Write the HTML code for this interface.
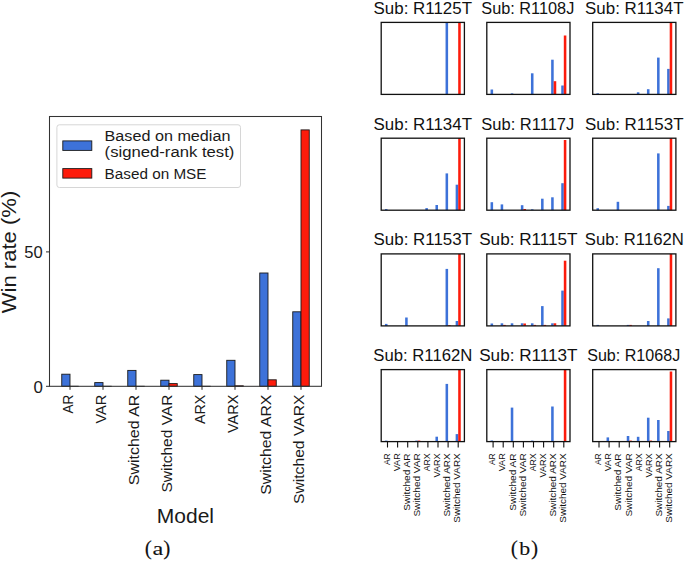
<!DOCTYPE html>
<html><head><meta charset="utf-8"><title>Win rate figure</title>
<style>
html,body{margin:0;padding:0;background:#fff;}
body{width:685px;height:561px;overflow:hidden;font-family:"Liberation Sans", sans-serif;}
svg{display:block;}
</style></head>
<body>
<svg width="685" height="561" viewBox="0 0 685 561">
<rect x="0" y="0" width="685" height="561" fill="#fff"/>
<rect x="61.75" y="374.20" width="8.25" height="12.10" fill="#3d72d9" stroke="#1a1a1a" stroke-width="0.9"/>
<line x1="69.55" y1="386.3" x2="78.70" y2="386.3" stroke="#1a1a1a" stroke-width="0.9"/>
<rect x="94.75" y="382.60" width="8.25" height="3.70" fill="#3d72d9" stroke="#1a1a1a" stroke-width="0.9"/>
<line x1="102.55" y1="386.3" x2="111.70" y2="386.3" stroke="#1a1a1a" stroke-width="0.9"/>
<rect x="127.75" y="370.40" width="8.25" height="15.90" fill="#3d72d9" stroke="#1a1a1a" stroke-width="0.9"/>
<line x1="135.55" y1="386.3" x2="144.70" y2="386.3" stroke="#1a1a1a" stroke-width="0.9"/>
<rect x="160.75" y="380.20" width="8.25" height="6.10" fill="#3d72d9" stroke="#1a1a1a" stroke-width="0.9"/>
<rect x="169.00" y="383.60" width="8.25" height="2.70" fill="#fd1b0b" stroke="#1a1a1a" stroke-width="0.9"/>
<rect x="193.75" y="374.60" width="8.25" height="11.70" fill="#3d72d9" stroke="#1a1a1a" stroke-width="0.9"/>
<line x1="201.55" y1="386.3" x2="210.70" y2="386.3" stroke="#1a1a1a" stroke-width="0.9"/>
<rect x="226.75" y="360.30" width="8.25" height="26.00" fill="#3d72d9" stroke="#1a1a1a" stroke-width="0.9"/>
<rect x="235.00" y="385.80" width="8.25" height="0.50" fill="#fd1b0b" stroke="#1a1a1a" stroke-width="0.9"/>
<rect x="259.75" y="273.00" width="8.25" height="113.30" fill="#3d72d9" stroke="#1a1a1a" stroke-width="0.9"/>
<rect x="268.00" y="379.80" width="8.25" height="6.50" fill="#fd1b0b" stroke="#1a1a1a" stroke-width="0.9"/>
<rect x="292.75" y="311.80" width="8.25" height="74.50" fill="#3d72d9" stroke="#1a1a1a" stroke-width="0.9"/>
<rect x="301.00" y="129.90" width="8.25" height="256.40" fill="#fd1b0b" stroke="#1a1a1a" stroke-width="0.9"/>
<rect x="49.5" y="116.5" width="272.0" height="269.8" fill="none" stroke="#333" stroke-width="1.05"/>
<line x1="46" y1="386.3" x2="49.5" y2="386.3" stroke="#2a2a2a" stroke-width="1"/>
<line x1="46" y1="251.9" x2="49.5" y2="251.9" stroke="#2a2a2a" stroke-width="1"/>
<text x="42.8" y="392.7" font-size="15.6" font-family='"Liberation Sans", sans-serif' fill="#1a1a1a" text-anchor="end" textLength="9.4" lengthAdjust="spacingAndGlyphs">0</text>
<text x="42.6" y="257.7" font-size="15.6" font-family='"Liberation Sans", sans-serif' fill="#1a1a1a" text-anchor="end" textLength="18.4" lengthAdjust="spacingAndGlyphs">50</text>
<line x1="70.0" y1="386.3" x2="70.0" y2="389.8" stroke="#2a2a2a" stroke-width="1"/>
<line x1="103.0" y1="386.3" x2="103.0" y2="389.8" stroke="#2a2a2a" stroke-width="1"/>
<line x1="136.0" y1="386.3" x2="136.0" y2="389.8" stroke="#2a2a2a" stroke-width="1"/>
<line x1="169.0" y1="386.3" x2="169.0" y2="389.8" stroke="#2a2a2a" stroke-width="1"/>
<line x1="202.0" y1="386.3" x2="202.0" y2="389.8" stroke="#2a2a2a" stroke-width="1"/>
<line x1="235.0" y1="386.3" x2="235.0" y2="389.8" stroke="#2a2a2a" stroke-width="1"/>
<line x1="268.0" y1="386.3" x2="268.0" y2="389.8" stroke="#2a2a2a" stroke-width="1"/>
<line x1="301.0" y1="386.3" x2="301.0" y2="389.8" stroke="#2a2a2a" stroke-width="1"/>
<text x="73.2" y="394.6" font-size="14.8" font-family='"Liberation Sans", sans-serif' fill="#1a1a1a" text-anchor="end" textLength="18.8" lengthAdjust="spacingAndGlyphs" transform="rotate(-90 73.2 394.6)">AR</text>
<text x="106.2" y="394.6" font-size="14.8" font-family='"Liberation Sans", sans-serif' fill="#1a1a1a" text-anchor="end" textLength="29.0" lengthAdjust="spacingAndGlyphs" transform="rotate(-90 106.2 394.6)">VAR</text>
<text x="139.2" y="394.6" font-size="14.8" font-family='"Liberation Sans", sans-serif' fill="#1a1a1a" text-anchor="end" textLength="90.6" lengthAdjust="spacingAndGlyphs" transform="rotate(-90 139.2 394.6)">Switched AR</text>
<text x="172.2" y="394.6" font-size="14.8" font-family='"Liberation Sans", sans-serif' fill="#1a1a1a" text-anchor="end" textLength="98.0" lengthAdjust="spacingAndGlyphs" transform="rotate(-90 172.2 394.6)">Switched VAR</text>
<text x="205.2" y="394.6" font-size="14.8" font-family='"Liberation Sans", sans-serif' fill="#1a1a1a" text-anchor="end" textLength="29.4" lengthAdjust="spacingAndGlyphs" transform="rotate(-90 205.2 394.6)">ARX</text>
<text x="238.2" y="394.6" font-size="14.8" font-family='"Liberation Sans", sans-serif' fill="#1a1a1a" text-anchor="end" textLength="38.4" lengthAdjust="spacingAndGlyphs" transform="rotate(-90 238.2 394.6)">VARX</text>
<text x="271.2" y="394.6" font-size="14.8" font-family='"Liberation Sans", sans-serif' fill="#1a1a1a" text-anchor="end" textLength="100.2" lengthAdjust="spacingAndGlyphs" transform="rotate(-90 271.2 394.6)">Switched ARX</text>
<text x="304.2" y="394.6" font-size="14.8" font-family='"Liberation Sans", sans-serif' fill="#1a1a1a" text-anchor="end" textLength="109.4" lengthAdjust="spacingAndGlyphs" transform="rotate(-90 304.2 394.6)">Switched VARX</text>
<text x="16.0" y="252.0" font-size="20.0" font-family='"Liberation Sans", sans-serif' fill="#1a1a1a" text-anchor="middle" textLength="122.5" lengthAdjust="spacingAndGlyphs" transform="rotate(-90 16.0 252.0)">Win rate (%)</text>
<text x="185.4" y="522.7" font-size="19.8" font-family='"Liberation Sans", sans-serif' fill="#1a1a1a" text-anchor="middle" textLength="57.2" lengthAdjust="spacingAndGlyphs">Model</text>
<rect x="56.9" y="124.8" width="183.6" height="62.7" rx="2.5" fill="#fff" fill-opacity="0.8" stroke="#d6d6d6" stroke-width="1"/>
<rect x="62.8" y="140.9" width="29" height="9.5" fill="#3d72d9" stroke="#1a1a1a" stroke-width="0.9"/>
<rect x="62.8" y="168.6" width="29" height="9.5" fill="#fd1b0b" stroke="#1a1a1a" stroke-width="0.9"/>
<text x="104.6" y="140.8" font-size="14.0" font-family='"Liberation Sans", sans-serif' fill="#1a1a1a" textLength="125.8" lengthAdjust="spacingAndGlyphs">Based on median</text>
<text x="104.6" y="156.5" font-size="14.0" font-family='"Liberation Sans", sans-serif' fill="#1a1a1a" textLength="129.8" lengthAdjust="spacingAndGlyphs">(signed-rank test)</text>
<text x="104.6" y="178.7" font-size="14.0" font-family='"Liberation Sans", sans-serif' fill="#1a1a1a" textLength="101.9" lengthAdjust="spacingAndGlyphs">Based on MSE</text>
<text x="148.35" y="554.6" font-size="21.4" font-family='"Liberation Serif", serif' fill="#111" stroke="#111" stroke-width="0.1" text-anchor="middle">(</text>
<text x="166.75" y="554.6" font-size="21.4" font-family='"Liberation Serif", serif' fill="#111" stroke="#111" stroke-width="0.1" text-anchor="middle">)</text>
<text x="158.0" y="554.9" font-size="18.6" font-family='"Liberation Serif", serif' fill="#111" stroke="#111" stroke-width="0.1" text-anchor="middle" textLength="10.8" lengthAdjust="spacingAndGlyphs">a</text>
<text x="514.3" y="554.6" font-size="21.4" font-family='"Liberation Serif", serif' fill="#111" stroke="#111" stroke-width="0.1" text-anchor="middle">(</text>
<text x="534.65" y="554.6" font-size="21.4" font-family='"Liberation Serif", serif' fill="#111" stroke="#111" stroke-width="0.1" text-anchor="middle">)</text>
<text x="524.75" y="554.9" font-size="18.6" font-family='"Liberation Serif", serif' fill="#111" stroke="#111" stroke-width="0.1" text-anchor="middle" textLength="10.9" lengthAdjust="spacingAndGlyphs">b</text>
<rect x="445.55" y="22.40" width="2.55" height="72.00" fill="#3d72d9"/>
<rect x="458.20" y="22.40" width="2.55" height="72.00" fill="#fd1b0b"/>
<rect x="381.2" y="22.4" width="83.2" height="72.0" fill="none" stroke="#111" stroke-width="1.3"/>
<text x="422.8" y="13.7" font-size="15.8" font-family='"Liberation Sans", sans-serif' fill="#111" text-anchor="middle" textLength="98.4" lengthAdjust="spacingAndGlyphs">Sub: R1125T</text>
<rect x="490.55" y="89.50" width="2.55" height="4.90" fill="#3d72d9"/>
<rect x="510.75" y="93.40" width="2.55" height="1.00" fill="#3d72d9"/>
<rect x="530.95" y="73.30" width="2.55" height="21.10" fill="#3d72d9"/>
<rect x="551.15" y="59.70" width="2.55" height="34.70" fill="#3d72d9"/>
<rect x="553.70" y="81.20" width="2.55" height="13.20" fill="#fd1b0b"/>
<rect x="561.25" y="85.50" width="2.55" height="8.90" fill="#3d72d9"/>
<rect x="563.80" y="35.50" width="2.55" height="58.90" fill="#fd1b0b"/>
<rect x="486.8" y="22.4" width="83.2" height="72.0" fill="none" stroke="#111" stroke-width="1.3"/>
<text x="527.8" y="13.7" font-size="15.8" font-family='"Liberation Sans", sans-serif' fill="#111" text-anchor="middle" textLength="93.0" lengthAdjust="spacingAndGlyphs">Sub: R1108J</text>
<rect x="596.45" y="93.30" width="2.55" height="1.10" fill="#3d72d9"/>
<rect x="636.85" y="92.30" width="2.55" height="2.10" fill="#3d72d9"/>
<rect x="646.95" y="89.20" width="2.55" height="5.20" fill="#3d72d9"/>
<rect x="657.05" y="57.60" width="2.55" height="36.80" fill="#3d72d9"/>
<rect x="667.15" y="68.90" width="2.55" height="25.50" fill="#3d72d9"/>
<rect x="669.70" y="22.40" width="2.55" height="72.00" fill="#fd1b0b"/>
<rect x="592.7" y="22.4" width="83.2" height="72.0" fill="none" stroke="#111" stroke-width="1.3"/>
<text x="634.3" y="13.7" font-size="15.8" font-family='"Liberation Sans", sans-serif' fill="#111" text-anchor="middle" textLength="98.4" lengthAdjust="spacingAndGlyphs">Sub: R1134T</text>
<rect x="384.95" y="209.10" width="2.55" height="1.10" fill="#3d72d9"/>
<rect x="425.35" y="208.10" width="2.55" height="2.10" fill="#3d72d9"/>
<rect x="435.45" y="205.00" width="2.55" height="5.20" fill="#3d72d9"/>
<rect x="445.55" y="173.40" width="2.55" height="36.80" fill="#3d72d9"/>
<rect x="455.65" y="184.70" width="2.55" height="25.50" fill="#3d72d9"/>
<rect x="458.20" y="138.20" width="2.55" height="72.00" fill="#fd1b0b"/>
<rect x="381.2" y="138.2" width="83.2" height="72.0" fill="none" stroke="#111" stroke-width="1.3"/>
<text x="422.8" y="129.5" font-size="15.8" font-family='"Liberation Sans", sans-serif' fill="#111" text-anchor="middle" textLength="98.4" lengthAdjust="spacingAndGlyphs">Sub: R1134T</text>
<rect x="490.55" y="202.20" width="2.55" height="8.00" fill="#3d72d9"/>
<rect x="500.65" y="204.40" width="2.55" height="5.80" fill="#3d72d9"/>
<rect x="520.85" y="205.20" width="2.55" height="5.00" fill="#3d72d9"/>
<rect x="523.40" y="209.00" width="2.55" height="1.20" fill="#fd1b0b"/>
<rect x="530.95" y="209.30" width="2.55" height="0.90" fill="#3d72d9"/>
<rect x="541.05" y="198.70" width="2.55" height="11.50" fill="#3d72d9"/>
<rect x="551.15" y="197.30" width="2.55" height="12.90" fill="#3d72d9"/>
<rect x="561.25" y="183.20" width="2.55" height="27.00" fill="#3d72d9"/>
<rect x="563.80" y="140.00" width="2.55" height="70.20" fill="#fd1b0b"/>
<rect x="486.8" y="138.2" width="83.2" height="72.0" fill="none" stroke="#111" stroke-width="1.3"/>
<text x="527.8" y="129.5" font-size="15.8" font-family='"Liberation Sans", sans-serif' fill="#111" text-anchor="middle" textLength="93.0" lengthAdjust="spacingAndGlyphs">Sub: R1117J</text>
<rect x="596.45" y="208.20" width="2.55" height="2.00" fill="#3d72d9"/>
<rect x="616.65" y="201.80" width="2.55" height="8.40" fill="#3d72d9"/>
<rect x="657.05" y="153.40" width="2.55" height="56.80" fill="#3d72d9"/>
<rect x="667.15" y="205.90" width="2.55" height="4.30" fill="#3d72d9"/>
<rect x="669.70" y="138.20" width="2.55" height="72.00" fill="#fd1b0b"/>
<rect x="592.7" y="138.2" width="83.2" height="72.0" fill="none" stroke="#111" stroke-width="1.3"/>
<text x="634.3" y="129.5" font-size="15.8" font-family='"Liberation Sans", sans-serif' fill="#111" text-anchor="middle" textLength="98.4" lengthAdjust="spacingAndGlyphs">Sub: R1153T</text>
<rect x="384.95" y="323.90" width="2.55" height="2.00" fill="#3d72d9"/>
<rect x="405.15" y="317.50" width="2.55" height="8.40" fill="#3d72d9"/>
<rect x="445.55" y="268.90" width="2.55" height="57.00" fill="#3d72d9"/>
<rect x="448.10" y="325.10" width="2.55" height="0.80" fill="#fd1b0b"/>
<rect x="455.65" y="321.00" width="2.55" height="4.90" fill="#3d72d9"/>
<rect x="458.20" y="253.90" width="2.55" height="72.00" fill="#fd1b0b"/>
<rect x="381.2" y="253.9" width="83.2" height="72.0" fill="none" stroke="#111" stroke-width="1.3"/>
<text x="422.8" y="245.20000000000002" font-size="15.8" font-family='"Liberation Sans", sans-serif' fill="#111" text-anchor="middle" textLength="98.4" lengthAdjust="spacingAndGlyphs">Sub: R1153T</text>
<rect x="490.55" y="323.50" width="2.55" height="2.40" fill="#3d72d9"/>
<rect x="500.65" y="323.30" width="2.55" height="2.60" fill="#3d72d9"/>
<rect x="503.20" y="324.90" width="2.55" height="1.00" fill="#fd1b0b"/>
<rect x="510.75" y="323.30" width="2.55" height="2.60" fill="#3d72d9"/>
<rect x="520.85" y="323.30" width="2.55" height="2.60" fill="#3d72d9"/>
<rect x="523.40" y="323.50" width="2.55" height="2.40" fill="#fd1b0b"/>
<rect x="530.95" y="323.30" width="2.55" height="2.60" fill="#3d72d9"/>
<rect x="533.50" y="324.90" width="2.55" height="1.00" fill="#fd1b0b"/>
<rect x="541.05" y="306.10" width="2.55" height="19.80" fill="#3d72d9"/>
<rect x="543.60" y="324.90" width="2.55" height="1.00" fill="#fd1b0b"/>
<rect x="551.15" y="323.30" width="2.55" height="2.60" fill="#3d72d9"/>
<rect x="553.70" y="323.30" width="2.55" height="2.60" fill="#fd1b0b"/>
<rect x="561.25" y="290.60" width="2.55" height="35.30" fill="#3d72d9"/>
<rect x="563.80" y="260.70" width="2.55" height="65.20" fill="#fd1b0b"/>
<rect x="486.8" y="253.9" width="83.2" height="72.0" fill="none" stroke="#111" stroke-width="1.3"/>
<text x="528.4" y="245.20000000000002" font-size="15.8" font-family='"Liberation Sans", sans-serif' fill="#111" text-anchor="middle" textLength="98.4" lengthAdjust="spacingAndGlyphs">Sub: R1115T</text>
<rect x="596.45" y="324.90" width="2.55" height="1.00" fill="#3d72d9"/>
<rect x="626.75" y="324.90" width="2.55" height="1.00" fill="#3d72d9"/>
<rect x="629.30" y="324.90" width="2.55" height="1.00" fill="#fd1b0b"/>
<rect x="646.95" y="321.00" width="2.55" height="4.90" fill="#3d72d9"/>
<rect x="657.05" y="268.20" width="2.55" height="57.70" fill="#3d72d9"/>
<rect x="667.15" y="318.40" width="2.55" height="7.50" fill="#3d72d9"/>
<rect x="669.70" y="253.90" width="2.55" height="72.00" fill="#fd1b0b"/>
<rect x="592.7" y="253.9" width="83.2" height="72.0" fill="none" stroke="#111" stroke-width="1.3"/>
<text x="634.3" y="245.20000000000002" font-size="15.8" font-family='"Liberation Sans", sans-serif' fill="#111" text-anchor="middle" textLength="99.0" lengthAdjust="spacingAndGlyphs">Sub: R1162N</text>
<rect x="384.95" y="440.60" width="2.55" height="1.00" fill="#3d72d9"/>
<rect x="415.25" y="440.60" width="2.55" height="1.00" fill="#3d72d9"/>
<rect x="417.80" y="440.60" width="2.55" height="1.00" fill="#fd1b0b"/>
<rect x="435.45" y="436.70" width="2.55" height="4.90" fill="#3d72d9"/>
<rect x="445.55" y="383.90" width="2.55" height="57.70" fill="#3d72d9"/>
<rect x="455.65" y="434.10" width="2.55" height="7.50" fill="#3d72d9"/>
<rect x="458.20" y="369.60" width="2.55" height="72.00" fill="#fd1b0b"/>
<rect x="381.2" y="369.6" width="83.2" height="72.0" fill="none" stroke="#111" stroke-width="1.3"/>
<text x="422.8" y="360.90000000000003" font-size="15.8" font-family='"Liberation Sans", sans-serif' fill="#111" text-anchor="middle" textLength="99.0" lengthAdjust="spacingAndGlyphs">Sub: R1162N</text>
<line x1="387.50" y1="441.6" x2="387.50" y2="447.50" stroke="#111" stroke-width="1.1"/>
<text x="389.8" y="453.3" font-size="9.7" font-family='"Liberation Sans", sans-serif' fill="#111" text-anchor="end" textLength="11.8" lengthAdjust="spacingAndGlyphs" transform="rotate(-90 389.8 453.3)">AR</text>
<line x1="397.60" y1="441.6" x2="397.60" y2="447.50" stroke="#111" stroke-width="1.1"/>
<text x="399.9" y="453.3" font-size="9.7" font-family='"Liberation Sans", sans-serif' fill="#111" text-anchor="end" textLength="18.0" lengthAdjust="spacingAndGlyphs" transform="rotate(-90 399.9 453.3)">VAR</text>
<line x1="407.70" y1="441.6" x2="407.70" y2="447.50" stroke="#111" stroke-width="1.1"/>
<text x="410.0" y="453.3" font-size="9.7" font-family='"Liberation Sans", sans-serif' fill="#111" text-anchor="end" textLength="57.4" lengthAdjust="spacingAndGlyphs" transform="rotate(-90 410.0 453.3)">Switched AR</text>
<line x1="417.80" y1="441.6" x2="417.80" y2="447.50" stroke="#111" stroke-width="1.1"/>
<text x="420.1" y="453.3" font-size="9.7" font-family='"Liberation Sans", sans-serif' fill="#111" text-anchor="end" textLength="63.3" lengthAdjust="spacingAndGlyphs" transform="rotate(-90 420.1 453.3)">Switched VAR</text>
<line x1="427.90" y1="441.6" x2="427.90" y2="447.50" stroke="#111" stroke-width="1.1"/>
<text x="430.2" y="453.3" font-size="9.7" font-family='"Liberation Sans", sans-serif' fill="#111" text-anchor="end" textLength="18.0" lengthAdjust="spacingAndGlyphs" transform="rotate(-90 430.2 453.3)">ARX</text>
<line x1="438.00" y1="441.6" x2="438.00" y2="447.50" stroke="#111" stroke-width="1.1"/>
<text x="440.3" y="453.3" font-size="9.7" font-family='"Liberation Sans", sans-serif' fill="#111" text-anchor="end" textLength="24.2" lengthAdjust="spacingAndGlyphs" transform="rotate(-90 440.3 453.3)">VARX</text>
<line x1="448.10" y1="441.6" x2="448.10" y2="447.50" stroke="#111" stroke-width="1.1"/>
<text x="450.4" y="453.3" font-size="9.7" font-family='"Liberation Sans", sans-serif' fill="#111" text-anchor="end" textLength="63.3" lengthAdjust="spacingAndGlyphs" transform="rotate(-90 450.4 453.3)">Switched ARX</text>
<line x1="458.20" y1="441.6" x2="458.20" y2="447.50" stroke="#111" stroke-width="1.1"/>
<text x="460.5" y="453.3" font-size="9.7" font-family='"Liberation Sans", sans-serif' fill="#111" text-anchor="end" textLength="69.4" lengthAdjust="spacingAndGlyphs" transform="rotate(-90 460.5 453.3)">Switched VARX</text>
<rect x="490.55" y="440.50" width="2.55" height="1.10" fill="#3d72d9"/>
<rect x="510.75" y="407.60" width="2.55" height="34.00" fill="#3d72d9"/>
<rect x="530.95" y="440.60" width="2.55" height="1.00" fill="#3d72d9"/>
<rect x="551.15" y="406.50" width="2.55" height="35.10" fill="#3d72d9"/>
<rect x="563.80" y="369.60" width="2.55" height="72.00" fill="#fd1b0b"/>
<rect x="486.8" y="369.6" width="83.2" height="72.0" fill="none" stroke="#111" stroke-width="1.3"/>
<text x="528.4" y="360.90000000000003" font-size="15.8" font-family='"Liberation Sans", sans-serif' fill="#111" text-anchor="middle" textLength="98.4" lengthAdjust="spacingAndGlyphs">Sub: R1113T</text>
<line x1="493.10" y1="441.6" x2="493.10" y2="447.50" stroke="#111" stroke-width="1.1"/>
<text x="495.4" y="453.3" font-size="9.7" font-family='"Liberation Sans", sans-serif' fill="#111" text-anchor="end" textLength="11.8" lengthAdjust="spacingAndGlyphs" transform="rotate(-90 495.4 453.3)">AR</text>
<line x1="503.20" y1="441.6" x2="503.20" y2="447.50" stroke="#111" stroke-width="1.1"/>
<text x="505.5" y="453.3" font-size="9.7" font-family='"Liberation Sans", sans-serif' fill="#111" text-anchor="end" textLength="18.0" lengthAdjust="spacingAndGlyphs" transform="rotate(-90 505.5 453.3)">VAR</text>
<line x1="513.30" y1="441.6" x2="513.30" y2="447.50" stroke="#111" stroke-width="1.1"/>
<text x="515.6" y="453.3" font-size="9.7" font-family='"Liberation Sans", sans-serif' fill="#111" text-anchor="end" textLength="57.4" lengthAdjust="spacingAndGlyphs" transform="rotate(-90 515.6 453.3)">Switched AR</text>
<line x1="523.40" y1="441.6" x2="523.40" y2="447.50" stroke="#111" stroke-width="1.1"/>
<text x="525.7" y="453.3" font-size="9.7" font-family='"Liberation Sans", sans-serif' fill="#111" text-anchor="end" textLength="63.3" lengthAdjust="spacingAndGlyphs" transform="rotate(-90 525.7 453.3)">Switched VAR</text>
<line x1="533.50" y1="441.6" x2="533.50" y2="447.50" stroke="#111" stroke-width="1.1"/>
<text x="535.8" y="453.3" font-size="9.7" font-family='"Liberation Sans", sans-serif' fill="#111" text-anchor="end" textLength="18.0" lengthAdjust="spacingAndGlyphs" transform="rotate(-90 535.8 453.3)">ARX</text>
<line x1="543.60" y1="441.6" x2="543.60" y2="447.50" stroke="#111" stroke-width="1.1"/>
<text x="545.9" y="453.3" font-size="9.7" font-family='"Liberation Sans", sans-serif' fill="#111" text-anchor="end" textLength="24.2" lengthAdjust="spacingAndGlyphs" transform="rotate(-90 545.9 453.3)">VARX</text>
<line x1="553.70" y1="441.6" x2="553.70" y2="447.50" stroke="#111" stroke-width="1.1"/>
<text x="556.0" y="453.3" font-size="9.7" font-family='"Liberation Sans", sans-serif' fill="#111" text-anchor="end" textLength="63.3" lengthAdjust="spacingAndGlyphs" transform="rotate(-90 556.0 453.3)">Switched ARX</text>
<line x1="563.80" y1="441.6" x2="563.80" y2="447.50" stroke="#111" stroke-width="1.1"/>
<text x="566.1" y="453.3" font-size="9.7" font-family='"Liberation Sans", sans-serif' fill="#111" text-anchor="end" textLength="69.4" lengthAdjust="spacingAndGlyphs" transform="rotate(-90 566.1 453.3)">Switched VARX</text>
<rect x="606.55" y="437.40" width="2.55" height="4.20" fill="#3d72d9"/>
<rect x="626.75" y="436.00" width="2.55" height="5.60" fill="#3d72d9"/>
<rect x="629.30" y="440.60" width="2.55" height="1.00" fill="#fd1b0b"/>
<rect x="636.85" y="436.80" width="2.55" height="4.80" fill="#3d72d9"/>
<rect x="646.95" y="417.70" width="2.55" height="23.90" fill="#3d72d9"/>
<rect x="649.50" y="440.60" width="2.55" height="1.00" fill="#fd1b0b"/>
<rect x="657.05" y="420.00" width="2.55" height="21.60" fill="#3d72d9"/>
<rect x="667.15" y="431.00" width="2.55" height="10.60" fill="#3d72d9"/>
<rect x="669.70" y="371.50" width="2.55" height="70.10" fill="#fd1b0b"/>
<rect x="592.7" y="369.6" width="83.2" height="72.0" fill="none" stroke="#111" stroke-width="1.3"/>
<text x="633.7" y="360.90000000000003" font-size="15.8" font-family='"Liberation Sans", sans-serif' fill="#111" text-anchor="middle" textLength="93.0" lengthAdjust="spacingAndGlyphs">Sub: R1068J</text>
<line x1="599.00" y1="441.6" x2="599.00" y2="447.50" stroke="#111" stroke-width="1.1"/>
<text x="601.3" y="453.3" font-size="9.7" font-family='"Liberation Sans", sans-serif' fill="#111" text-anchor="end" textLength="11.8" lengthAdjust="spacingAndGlyphs" transform="rotate(-90 601.3 453.3)">AR</text>
<line x1="609.10" y1="441.6" x2="609.10" y2="447.50" stroke="#111" stroke-width="1.1"/>
<text x="611.4" y="453.3" font-size="9.7" font-family='"Liberation Sans", sans-serif' fill="#111" text-anchor="end" textLength="18.0" lengthAdjust="spacingAndGlyphs" transform="rotate(-90 611.4 453.3)">VAR</text>
<line x1="619.20" y1="441.6" x2="619.20" y2="447.50" stroke="#111" stroke-width="1.1"/>
<text x="621.5" y="453.3" font-size="9.7" font-family='"Liberation Sans", sans-serif' fill="#111" text-anchor="end" textLength="57.4" lengthAdjust="spacingAndGlyphs" transform="rotate(-90 621.5 453.3)">Switched AR</text>
<line x1="629.30" y1="441.6" x2="629.30" y2="447.50" stroke="#111" stroke-width="1.1"/>
<text x="631.6" y="453.3" font-size="9.7" font-family='"Liberation Sans", sans-serif' fill="#111" text-anchor="end" textLength="63.3" lengthAdjust="spacingAndGlyphs" transform="rotate(-90 631.6 453.3)">Switched VAR</text>
<line x1="639.40" y1="441.6" x2="639.40" y2="447.50" stroke="#111" stroke-width="1.1"/>
<text x="641.7" y="453.3" font-size="9.7" font-family='"Liberation Sans", sans-serif' fill="#111" text-anchor="end" textLength="18.0" lengthAdjust="spacingAndGlyphs" transform="rotate(-90 641.7 453.3)">ARX</text>
<line x1="649.50" y1="441.6" x2="649.50" y2="447.50" stroke="#111" stroke-width="1.1"/>
<text x="651.8" y="453.3" font-size="9.7" font-family='"Liberation Sans", sans-serif' fill="#111" text-anchor="end" textLength="24.2" lengthAdjust="spacingAndGlyphs" transform="rotate(-90 651.8 453.3)">VARX</text>
<line x1="659.60" y1="441.6" x2="659.60" y2="447.50" stroke="#111" stroke-width="1.1"/>
<text x="661.9" y="453.3" font-size="9.7" font-family='"Liberation Sans", sans-serif' fill="#111" text-anchor="end" textLength="63.3" lengthAdjust="spacingAndGlyphs" transform="rotate(-90 661.9 453.3)">Switched ARX</text>
<line x1="669.70" y1="441.6" x2="669.70" y2="447.50" stroke="#111" stroke-width="1.1"/>
<text x="672.0" y="453.3" font-size="9.7" font-family='"Liberation Sans", sans-serif' fill="#111" text-anchor="end" textLength="69.4" lengthAdjust="spacingAndGlyphs" transform="rotate(-90 672.0 453.3)">Switched VARX</text>
</svg>
</body></html>
